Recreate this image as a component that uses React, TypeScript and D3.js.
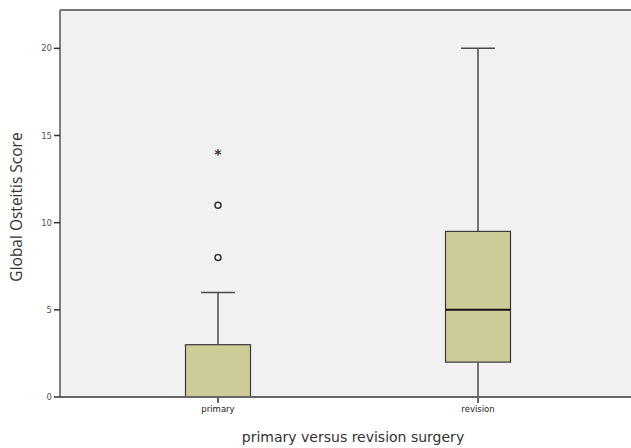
import React, { useEffect } from "react";
import * as d3 from "d3";

const categories = ["primary", "revision"];
const whiskerLow = [0, 0];
const q1 = [0, 2];
const median = [0, 5];
const q3 = [3, 9.5];
const whiskerHigh = [6, 20];
const outlierCircles = [[8, 11], []];
const outlierStars = [[14], []];
const yTicks = [0, 5, 10, 15, 20];

const W = 631;
const H = 448;
const plotLeft = 60;
const plotRight = 631;
const plotTop = 10;
const plotBottom = 397;

export default function App() {
  useEffect(() => {
    document.body.style.margin = "0";
  }, []);

  const x = d3.scaleBand<string>().domain(categories).range([88, 608]).padding(0);
  const y = d3.scaleLinear().domain([0, 22.2]).range([plotBottom, plotTop]);
  const boxW = x.bandwidth() * 0.25;
  const capW = x.bandwidth() * 0.13;
  const stroke = "#4a4a4a";

  return (
    <svg width={W} height={H} style={{ display: "block" }}>
      <rect x={0} y={0} width={W} height={H} fill="#ffffff" />
      <rect
        x={plotLeft}
        y={plotTop}
        width={plotRight - plotLeft}
        height={plotBottom - plotTop}
        fill="#f1f1f1"
      />
      {categories.map((c, i) => {
        const cx = (x(c) as number) + x.bandwidth() / 2;
        return (
          <g key={c}>
            <line x1={cx} x2={cx} y1={y(whiskerHigh[i])} y2={y(q3[i])} stroke={stroke} strokeWidth={1.5} />
            <line x1={cx} x2={cx} y1={y(q1[i])} y2={y(whiskerLow[i])} stroke={stroke} strokeWidth={1.5} />
            <line
              x1={cx - capW / 2}
              x2={cx + capW / 2}
              y1={y(whiskerHigh[i])}
              y2={y(whiskerHigh[i])}
              stroke={stroke}
              strokeWidth={1.5}
            />
            <rect
              x={cx - boxW / 2}
              y={y(q3[i])}
              width={boxW}
              height={y(q1[i]) - y(q3[i])}
              fill="#cdcb98"
              stroke="#3a3a3a"
              strokeWidth={1.2}
            />
            <line
              x1={cx - boxW / 2}
              x2={cx + boxW / 2}
              y1={y(median[i])}
              y2={y(median[i])}
              stroke="#111"
              strokeWidth={2}
            />
            {outlierCircles[i].map((v, j) => (
              <circle key={"c" + j} cx={cx} cy={y(v)} r={3} fill="none" stroke="#333" strokeWidth={1.5} />
            ))}
            {outlierStars[i].map((v, j) => (
              <text
                key={"s" + j}
                x={cx}
                y={y(v) + 6}
                textAnchor="middle"
                fontFamily="DejaVu Sans"
                fontWeight="bold"
                fontSize={14}
                fill="#333"
              >
                *
              </text>
            ))}
            <line x1={cx} x2={cx} y1={plotBottom} y2={plotBottom + 6} stroke="#333" strokeWidth={1.5} />
            <text
              x={cx}
              y={plotBottom + 15}
              textAnchor="middle"
              fontFamily="DejaVu Sans"
              fontSize={8.5}
              fill="#222"
            >
              {c}
            </text>
          </g>
        );
      })}
      {/* frame */}
      <line x1={plotLeft} x2={plotRight} y1={plotTop} y2={plotTop} stroke="#777" strokeWidth={2} />
      <line x1={plotLeft} x2={plotRight} y1={plotBottom} y2={plotBottom} stroke="#666" strokeWidth={2} />
      <line x1={plotLeft} x2={plotLeft} y1={plotTop} y2={plotBottom} stroke="#555" strokeWidth={1.5} />
      {yTicks.map((t) => (
        <g key={t}>
          <line x1={plotLeft - 6} x2={plotLeft} y1={y(t)} y2={y(t)} stroke="#333" strokeWidth={1.5} />
          <text
            x={plotLeft - 8}
            y={y(t) + 3}
            textAnchor="end"
            fontFamily="DejaVu Sans"
            fontSize={8.5}
            fill="#555"
          >
            {t}
          </text>
        </g>
      ))}
      <text
        x={353}
        y={442}
        textAnchor="middle"
        fontFamily="DejaVu Sans"
        fontSize={14}
        fill="#333"
      >
        primary versus revision surgery
      </text>
      <text
        transform={`translate(22,${207}) rotate(-90)`}
        textAnchor="middle"
        fontFamily="Open Sans"
        fontSize={15.5}
        fill="#333"
      >
        Global Osteitis Score
      </text>
    </svg>
  );
}
